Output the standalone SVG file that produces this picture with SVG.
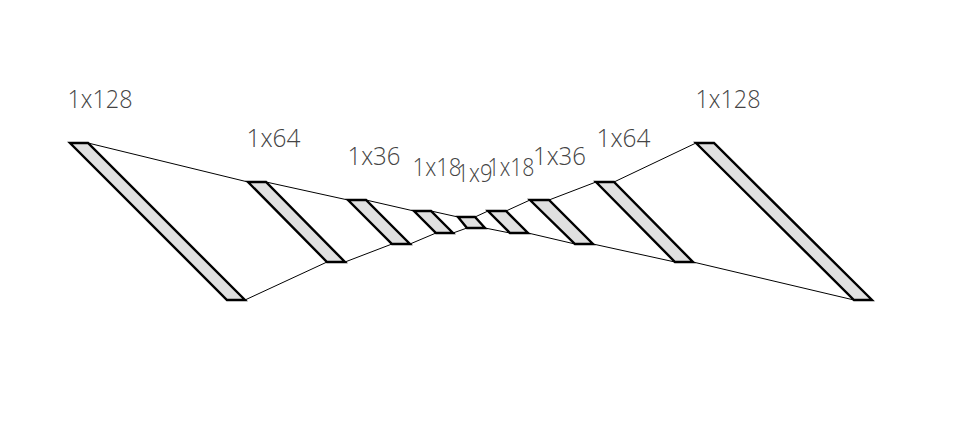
<svg xmlns="http://www.w3.org/2000/svg" width="968" height="422" viewBox="0 0 968 422">
<style>
.layer{fill:#e0e0e0;stroke:#000;stroke-width:2.4;stroke-linejoin:miter}
.conn{stroke:#000;stroke-width:1;fill:none}
.lbl{font-family:"Open Sans",Lato,"Liberation Sans",sans-serif;font-weight:300;font-size:26px;fill:#444;font-feature-settings:"calt" 0}
</style>
<rect width="968" height="422" fill="#fff"/>
<g id="connectors">
<line class="conn" x1="88" y1="143" x2="248" y2="182"/>
<line class="conn" x1="245" y1="300" x2="327" y2="262"/>
<line class="conn" x1="266" y1="182" x2="348" y2="200"/>
<line class="conn" x1="345" y1="262" x2="392" y2="244"/>
<line class="conn" x1="366" y1="200" x2="414" y2="211"/>
<line class="conn" x1="410" y1="244" x2="436" y2="233"/>
<line class="conn" x1="431" y1="211" x2="458" y2="217"/>
<line class="conn" x1="453" y1="233" x2="467" y2="228"/>
<line class="conn" x1="475" y1="217" x2="488" y2="211"/>
<line class="conn" x1="485" y1="228" x2="510" y2="233"/>
<line class="conn" x1="506" y1="211" x2="530" y2="200"/>
<line class="conn" x1="528" y1="233" x2="575" y2="244"/>
<line class="conn" x1="549" y1="200" x2="596" y2="182"/>
<line class="conn" x1="593" y1="244" x2="675" y2="262"/>
<line class="conn" x1="614" y1="182" x2="696" y2="143"/>
<line class="conn" x1="693" y1="262" x2="854" y2="300"/>
</g>
<g id="layer1"><polygon class="layer" points="70,143 88,143 245,300 227,300"/><text class="lbl" x="67.5" y="108" textLength="65" lengthAdjust="spacingAndGlyphs">1x128</text></g>
<g id="layer2"><polygon class="layer" points="248,182 266,182 345,262 327,262"/><text class="lbl" x="246.5" y="147" textLength="54" lengthAdjust="spacingAndGlyphs">1x64</text></g>
<g id="layer3"><polygon class="layer" points="348,200 366,200 410,244 392,244"/><text class="lbl" x="347.5" y="165" textLength="53" lengthAdjust="spacingAndGlyphs">1x36</text></g>
<g id="layer4"><polygon class="layer" points="414,211 431,211 453,233 436,233"/><text class="lbl" x="412.5" y="175.5" textLength="49" lengthAdjust="spacingAndGlyphs">1x18</text></g>
<g id="layer5"><polygon class="layer" points="458,217 475,217 485,228 467,228"/><text class="lbl" x="456.5" y="182" textLength="36" lengthAdjust="spacingAndGlyphs">1x9</text></g>
<g id="layer6"><polygon class="layer" points="488,211 506,211 528,233 510,233"/><text class="lbl" x="487.5" y="175.5" textLength="47" lengthAdjust="spacingAndGlyphs">1x18</text></g>
<g id="layer7"><polygon class="layer" points="530,200 549,200 593,244 575,244"/><text class="lbl" x="533" y="165" textLength="53" lengthAdjust="spacingAndGlyphs">1x36</text></g>
<g id="layer8"><polygon class="layer" points="596,182 614,182 693,262 675,262"/><text class="lbl" x="596.5" y="147" textLength="54" lengthAdjust="spacingAndGlyphs">1x64</text></g>
<g id="layer9"><polygon class="layer" points="696,143 714,143 872,300 854,300"/><text class="lbl" x="695.5" y="108" textLength="65" lengthAdjust="spacingAndGlyphs">1x128</text></g>
</svg>
